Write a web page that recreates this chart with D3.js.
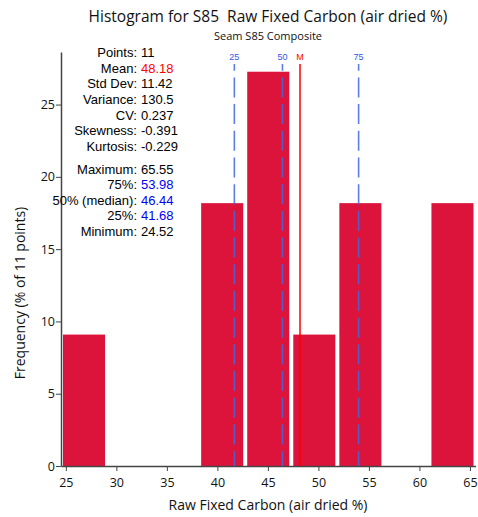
<!DOCTYPE html>
<html>
<head>
<meta charset="utf-8">
<script src="https://cdn.jsdelivr.net/npm/d3@7"></script>
<style>
  html, body { margin: 0; padding: 0; background: #fff; }
  svg { display: block; }
  text { white-space: pre; }
</style>
</head>
<body>
<script>
// Sample: Seam S85 Composite, raw fixed carbon (air dried %), 11 points
const pointCount = 11;
const dataMin = 24.52;
const dataMax = 65.55;
const binCounts = [1, 0, 0, 2, 3, 1, 2, 0, 2];
const xTicks = [25, 30, 35, 40, 45, 50, 55, 60, 65];
const yTicks = [0, 5, 10, 15, 20, 25];

const meanValue = 48.18;
const quantileKeys = ["25", "50", "75"];
const quantileValues = [41.68, 46.44, 53.98];

const statLabels = ["Points:", "Mean:", "Std Dev:", "Variance:", "CV:", "Skewness:", "Kurtosis:",
                    "Maximum:", "75%:", "50% (median):", "25%:", "Minimum:"];
const statValues = ["11", "48.18", "11.42", "130.5", "0.237", "-0.391", "-0.229",
                    "65.55", "53.98", "46.44", "41.68", "24.52"];
const statColors = ["#000", "red", "#000", "#000", "#000", "#000", "#000",
                    "#000", "blue", "blue", "blue", "#000"];

const W = 478, H = 517;
const plotLeft = 61, plotRight = 475.5, plotTop = 52, plotBottom = 466;

const svg = d3.select("body").append("svg").attr("width", W).attr("height", H);

// Bins of equal width spanning min..max
const binWidth = (dataMax - dataMin) / binCounts.length;
const bins = binCounts.map((c, i) => ({
  x0: dataMin + i * binWidth,
  x1: dataMin + (i + 1) * binWidth,
  pct: c / pointCount * 100
}));

const x = d3.scaleLinear().domain([dataMin, dataMax]).range([plotLeft, plotRight]);
const yMax = d3.max(bins, d => d.pct) * 1.05;
const y = d3.scaleLinear().domain([0, yMax]).range([plotBottom, plotTop]);

const axisFont = "'Open Sans', sans-serif";
const axisColor = "#444";

// Bars
svg.append("g").selectAll("rect")
  .data(bins.filter(d => d.pct > 0))
  .join("rect")
  .attr("x", d => x(d.x0) + 2)
  .attr("width", d => x(d.x1) - x(d.x0) - 4)
  .attr("y", d => y(d.pct))
  .attr("height", d => y(0) - y(d.pct))
  .attr("fill", "#dc143c");

// Axes
const xAxis = svg.append("g")
  .attr("transform", `translate(0,${plotBottom})`)
  .call(d3.axisBottom(x).tickValues(xTicks).tickSize(5).tickSizeOuter(0));
const yAxis = svg.append("g")
  .attr("transform", `translate(${plotLeft},0)`)
  .call(d3.axisLeft(y).tickValues(yTicks).tickSize(5).tickSizeOuter(0));

[xAxis, yAxis].forEach(a => {
  a.select(".domain").attr("stroke", axisColor).attr("stroke-width", 1.5);
  a.selectAll(".tick line").attr("stroke", axisColor);
  a.selectAll(".tick text").attr("fill", "#111")
    .style("font-family", axisFont).style("font-size", "12.5px");
});
xAxis.selectAll(".tick text").attr("dy", "1.05em");
yAxis.selectAll(".tick text").attr("x", -6);

// Quantile and mean markers
const markTop = 64;
const qColor = "rgba(65,105,225,0.85)";
quantileValues.forEach((v, i) => {
  svg.append("line")
    .attr("x1", x(v)).attr("x2", x(v))
    .attr("y1", markTop).attr("y2", plotBottom)
    .attr("stroke", qColor).attr("stroke-width", 1.6)
    .attr("stroke-dasharray", "20,6.7")
    .attr("stroke-dashoffset", 13.3);
  svg.append("text")
    .attr("x", x(v)).attr("y", 60)
    .attr("text-anchor", "middle")
    .attr("fill", "#3355ee")
    .style("font-family", "'Liberation Sans', Arial, sans-serif")
    .style("font-size", "9px")
    .text(quantileKeys[i]);
});
svg.append("line")
  .attr("x1", x(meanValue)).attr("x2", x(meanValue))
  .attr("y1", markTop).attr("y2", plotBottom)
  .attr("stroke", "red").attr("stroke-width", 1.5);
svg.append("text")
  .attr("x", x(meanValue)).attr("y", 60)
  .attr("text-anchor", "middle")
  .attr("fill", "red")
  .style("font-family", "'Liberation Sans', Arial, sans-serif")
  .style("font-size", "9px")
  .text("M");

// Statistics block
const statY = [52.7, 68.2, 83.8, 99.4, 115, 130.6, 146.2, 169, 184.6, 200.2, 215.8, 231.4];
const statFont = "'Liberation Sans', Arial, sans-serif";
const stats = svg.append("g").style("font-family", statFont).style("font-size", "13px");
statLabels.forEach((lab, i) => {
  stats.append("text")
    .attr("x", 137).attr("y", statY[i]).attr("dy", "0.35em")
    .attr("text-anchor", "end").attr("fill", "#000")
    .text(lab);
  stats.append("text")
    .attr("x", 141).attr("y", statY[i]).attr("dy", "0.35em")
    .attr("fill", statColors[i])
    .text(statValues[i]);
});

// Titles
svg.append("text")
  .attr("x", 268).attr("y", 22)
  .attr("text-anchor", "middle")
  .style("font-family", axisFont).style("font-size", "15.5px")
  .attr("fill", "#111")
  .text("Histogram for S85  Raw Fixed Carbon (air dried %)");
svg.append("text")
  .attr("x", 268).attr("y", 40)
  .attr("text-anchor", "middle")
  .style("font-family", axisFont).style("font-size", "11px")
  .attr("fill", "#111")
  .text("Seam S85 Composite");
svg.append("text")
  .attr("x", 268).attr("y", 510)
  .attr("text-anchor", "middle")
  .style("font-family", axisFont).style("font-size", "14px")
  .attr("fill", "#111")
  .text("Raw Fixed Carbon (air dried %)");
svg.append("text")
  .attr("transform", "translate(20,293) rotate(-90)")
  .attr("text-anchor", "middle")
  .attr("dy", "0.35em")
  .style("font-family", axisFont).style("font-size", "14px")
  .attr("fill", "#111")
  .text("Frequency (% of 11 points)");
</script>
</body>
</html>
